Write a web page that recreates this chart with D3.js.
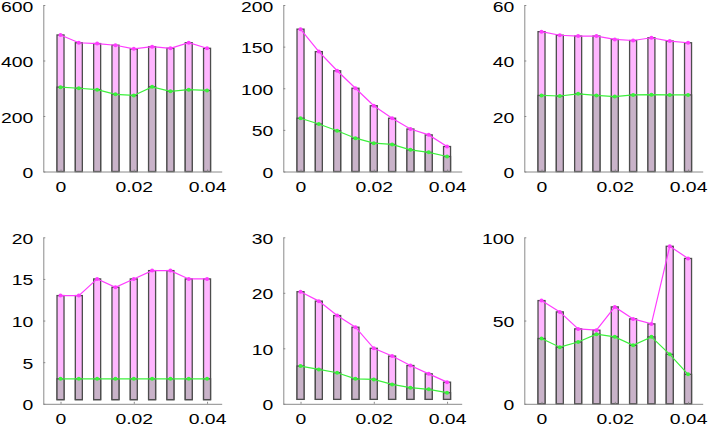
<!DOCTYPE html>
<html><head><meta charset="utf-8">
<script src="https://cdn.jsdelivr.net/npm/d3@7"></script>
<style>body{margin:0;background:#fff}svg{display:block}</style>
</head><body>
<svg id="c" width="710" height="427"></svg>
<script>
// ---- data ----
const xValues = [0, 0.005, 0.01, 0.015, 0.02, 0.025, 0.03, 0.035, 0.04];
const xTickValues = [0, 0.02, 0.04];
const xTickLabels = ["0", "0.02", "0.04"];

const yMax = [600, 200, 60, 20, 30, 100];
const yTicks1 = [0, 200, 400, 600];
const yTicks2 = [0, 50, 100, 150, 200];
const yTicks3 = [0, 20, 40, 60];
const yTicks4 = [0, 5, 10, 15, 20];
const yTicks5 = [0, 10, 20, 30];
const yTicks6 = [0, 50, 100];

const total1 = [492, 464, 461, 455, 442, 450, 444, 464, 444];
const part1  = [304, 300, 295, 278, 274, 305, 289, 295, 292];
const total2 = [171, 144, 121, 100, 79, 64, 51, 44, 30];
const part2  = [64, 57, 49, 40, 34, 32.5, 26, 23, 18];
const total3 = [50.4, 49.1, 48.8, 48.8, 47.6, 47.2, 48.2, 47.0, 46.4];
const part3  = [27.4, 27.2, 28.0, 27.4, 27.0, 27.6, 27.7, 27.6, 27.6];
const total4 = [13, 13, 15, 14, 15, 16, 16, 15, 15];
const part4  = [3, 3, 3, 3, 3, 3, 3, 3, 3];
const total5 = [20.2, 18.5, 15.9, 13.8, 10, 8.6, 6.9, 5.4, 3.9];
const part5  = [6.8, 6.2, 5.6, 4.5, 4.4, 3.5, 2.9, 2.6, 2.0];
const total6 = [62, 55.2, 45, 44.2, 58.2, 51, 48, 94.6, 87.3];
const part6  = [39.2, 34, 37.1, 41.8, 40.2, 35.1, 40.2, 29.7, 17.7];
const barBase = [0, 0, 0, 0.5, 0.8, 0];

const panels = [
  {total: total1, part: part1, ticks: yTicks1},
  {total: total2, part: part2, ticks: yTicks2},
  {total: total3, part: part3, ticks: yTicks3},
  {total: total4, part: part4, ticks: yTicks4},
  {total: total5, part: part5, ticks: yTicks5},
  {total: total6, part: part6, ticks: yTicks6},
];

// ---- layout / style ----
const originX = [43.3, 283.3, 524.3];
const originTop = [5, 237.3];
const plotH = 166.5;
const plotW = 178.4;
const barW = 7;
const S = 1.385; // horizontal text stretch
const col = {
  pink: "#ffb6ff", grey: "#c9b3c9", stroke: "#4d4d4d",
  mag: "#ff3cff", green: "#3cf03c", axis: "#8a8a8a"
};

const svg = d3.select("#c");

panels.forEach((p, i) => {
  const c = i % 3, r = Math.floor(i / 3);
  const g = svg.append("g").attr("transform", `translate(${originX[c]},${originTop[r]})`);
  const x = d3.scaleLinear().domain([-0.0047, 0.044]).range([0, plotW]);
  const y = d3.scaleLinear().domain([0, yMax[i]]).range([plotH, 0]);
  const base = barBase[i];

  // total bars
  g.selectAll("rect.t").data(p.total).join("rect").attr("class", "t")
    .attr("x", (d, j) => x(xValues[j]) - barW / 2)
    .attr("width", barW)
    .attr("y", d => y(d))
    .attr("height", d => y(base) - y(d))
    .attr("fill", col.pink).attr("stroke", col.stroke).attr("stroke-width", 1.3);
  // part bars
  g.selectAll("rect.p").data(p.part).join("rect").attr("class", "p")
    .attr("x", (d, j) => x(xValues[j]) - barW / 2)
    .attr("width", barW)
    .attr("y", d => y(d))
    .attr("height", d => y(base) - y(d))
    .attr("fill", col.grey).attr("stroke", col.stroke).attr("stroke-width", 1.3);

  const line = d3.line().x((d, j) => x(xValues[j])).y(d => y(d));
  g.append("path").datum(p.total).attr("d", line).attr("fill", "none")
    .attr("stroke", col.mag).attr("stroke-width", 1.2);
  g.append("path").datum(p.part).attr("d", line).attr("fill", "none")
    .attr("stroke", col.green).attr("stroke-width", 1.2);
  g.selectAll("circle.t").data(p.total).join("circle").attr("class", "t")
    .attr("cx", (d, j) => x(xValues[j])).attr("cy", d => y(d)).attr("r", 2)
    .attr("fill", col.mag);
  g.selectAll("circle.p").data(p.part).join("circle").attr("class", "p")
    .attr("cx", (d, j) => x(xValues[j])).attr("cy", d => y(d)).attr("r", 2)
    .attr("fill", col.green);

  // axes
  const ya = g.append("g").call(d3.axisLeft(y).tickValues(p.ticks).tickFormat(d3.format("d"))
    .tickSizeInner(-2).tickSizeOuter(0).tickPadding(10));
  const xa = g.append("g").attr("transform", `translate(0,${plotH})`)
    .call(d3.axisBottom(x).tickValues(xTickValues).tickFormat((d, k) => xTickLabels[k])
      .tickSizeInner(-2).tickSizeOuter(0).tickPadding(10.6));
  ya.selectAll("text").attr("dy", "0.43em");
  [ya, xa].forEach(a => {
    a.select(".domain").attr("stroke", col.axis);
    a.selectAll(".tick line").attr("stroke", col.axis);
    a.selectAll("text")
      .attr("font-family", "Liberation Sans, Arial, sans-serif")
      .attr("font-size", 14).attr("fill", "#000")
      .attr("x", function () { return (+this.getAttribute("x") || 0) / S; })
      .attr("transform", `scale(${S},1)`);
  });
});
</script>
</body></html>
